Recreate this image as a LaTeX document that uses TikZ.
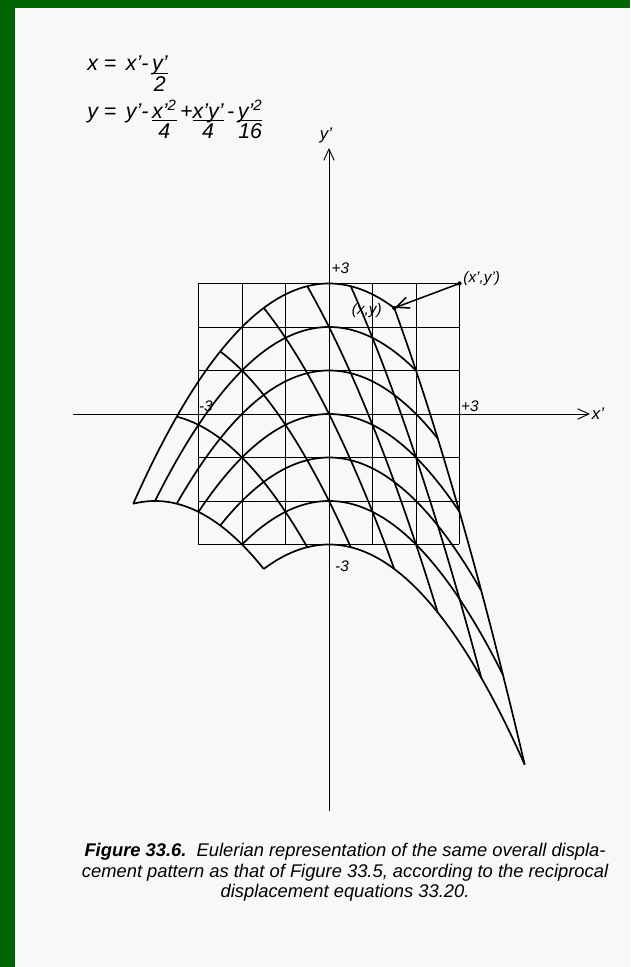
\documentclass[tikz,border=0pt]{standalone}
\usepackage{fontspec}
\setmainfont{Liberation Sans}
\usetikzlibrary{arrows.meta}
\definecolor{framegreen}{RGB}{0,100,0}
\definecolor{paper}{RGB}{248,248,246}
\newcommand\ufrac[2]{\begin{tabular}[t]{@{}c@{}}\underline{\smash{#1}}\\[-3.5pt]#2\end{tabular}}

\begin{document}
\begin{tikzpicture}[
    sqgrid/.style={line width=0.5pt},
    defgrid/.style={line width=1.1pt, line join=round},
    axis/.style={line width=0.6pt, -{Straight Barb[length=2.6mm,width=2.4mm]}},
    lbl/.style={font=\itshape\fontsize{10}{12}\selectfont, inner sep=1pt},
    axlbl/.style={lbl, font=\itshape\fontsize{11}{12}\selectfont},
    eqn/.style={font=\itshape\fontsize{14}{17}\selectfont, anchor=base west, inner sep=0pt},
    caption/.style={font=\itshape\fontsize{12}{13.7}\selectfont, align=center, anchor=base},
    declare function={ex(\a,\b)=\a-\b/2; ey(\a,\b)=\b-(\a-\b/2)*(\a-\b/2)/4;}]

  % Page and green frame
  \useasboundingbox (-7.563,-12.713) rectangle (6.920,9.517);
  \fill[paper] (-7.563,-12.713) rectangle (6.920,9.517);
  \fill[framegreen] (-7.563,9.333) rectangle (6.920,9.517);
  \fill[framegreen] (-7.563,-12.713) rectangle (-7.218,9.517);

  % Equations
  \node[eqn] (eqx) at (-5.563,7.885) {x = \,x’-\,\ufrac{y’}{2}};
  \node[eqn] (eqy) at (-5.563,6.80) {y = \,y’-\,\ufrac{x’\textsuperscript{2}}{4}\,+\ufrac{x’y’}{4}\,-\,\ufrac{y’\textsuperscript{2}}{16}};

  % Axes
  \coordinate (xl) at (-5.885,0);
  \coordinate (xr) at (6.0,0);
  \coordinate (yb) at (0,-9.13);
  \coordinate (yt) at (0,6.115);
  \draw[axis] (xl) -- (xr) node[axlbl, right] (xlab) {x’};
  \draw[axis] (yb) -- (yt) node[axlbl, above, xshift=-2pt, yshift=2pt] (ylab) {y’};

  % Square grid
  \draw[sqgrid] (-3,-3) grid (3,3);

  % Deformed grid: lines y'=c and x'=c
  \foreach \c in {-3,...,3} {
    \draw[defgrid] plot[domain=-3:3, samples=40, smooth, variable=\t] ({ex(\t,\c)},{ey(\t,\c)});
    \draw[defgrid] plot[domain=-3:3, samples=40, smooth, variable=\t] ({ex(\c,\t)},{ey(\c,\t)});
  }

  % Marks on the axes
  \node[lbl] (ltop) at (0.26,3.36) {+3};
  \node[lbl] (lbot) at (0.30,-3.49) {-3};
  \node[lbl] (lleft) at (-2.83,0.18) {-3};
  \node[lbl] (lright) at (3.24,0.18) {+3};

  % Displacement of the corner point
  \coordinate (P) at (3,3);
  \coordinate (Q) at ({ex(3,3)},{ey(3,3)});
  \fill (P) circle (1.4pt);
  \fill (Q) circle (1.4pt);
  \draw[line width=1pt, -{Straight Barb[length=3mm,width=2.6mm]}] (P) -- (Q);
  \node[lbl, anchor=west] (plab) at (3.05,3.12) {(x’,y’)};
  \node[lbl] (qlab) at (0.87,2.37) {(x,y)};

  % Caption
  \node[caption] (cap) at (0.37,-11.126) {\textbf{Figure 33.6.}\ \ Eulerian representation of the same overall displa-\\cement pattern as that of Figure 33.5, according to the reciprocal\\displacement equations 33.20.};

\end{tikzpicture}
\end{document}
